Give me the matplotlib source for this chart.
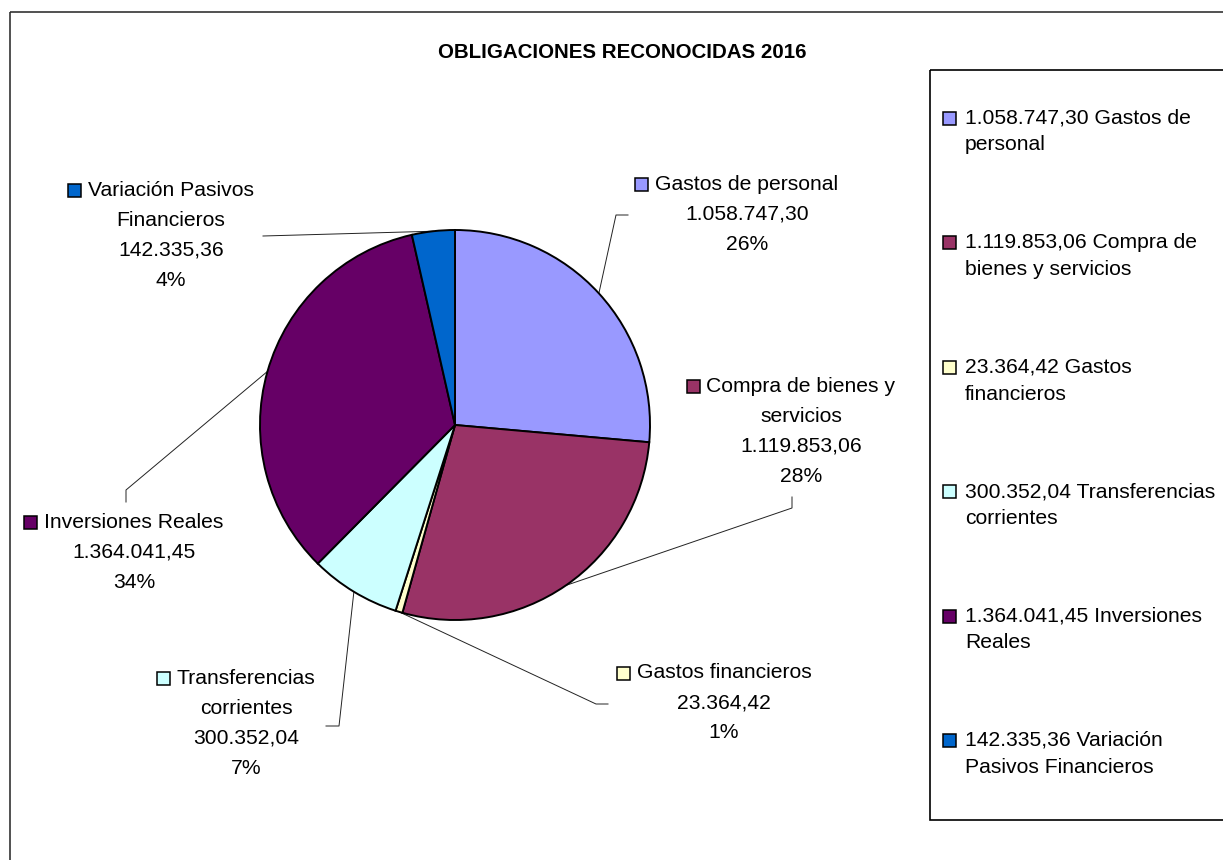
"""
Pie chart: OBLIGACIONES RECONOCIDAS 2016 (Excel-style, labels outside with leader lines)
"""

import matplotlib.pyplot as plt
import numpy as np
from matplotlib.patches import Rectangle

plt.rcParams["font.family"] = ["Liberation Sans", "DejaVu Sans"]

# ── Data ──────────────────────────────────────────────────────────────────────
TITLE = "OBLIGACIONES RECONOCIDAS 2016"
CATEGORIES = [
    "Gastos de personal",
    "Compra de bienes y servicios",
    "Gastos financieros",
    "Transferencias corrientes",
    "Inversiones Reales",
    "Variación Pasivos Financieros",
]
AMOUNTS = [1058747.30, 1119853.06, 23364.42, 300352.04, 1364041.45, 142335.36]
COLORS = ["#9999FF", "#993366", "#FFFFCC", "#CCFFFF", "#660066", "#0066CC"]

# line breaks as they appear in the slice labels and the legend
LABEL_LINES = [
    ["Gastos de personal"],
    ["Compra de bienes y", "servicios"],
    ["Gastos financieros"],
    ["Transferencias", "corrientes"],
    ["Inversiones Reales"],
    ["Variación Pasivos", "Financieros"],
]
LEGEND_SPLIT = [
    ("Gastos de", "personal"),
    ("Compra de", "bienes y servicios"),
    ("Gastos", "financieros"),
    ("Transferencias", "corrientes"),
    ("Inversiones", "Reales"),
    ("Variación", "Pasivos Financieros"),
]

# ── Layout (pixel coordinates, y downwards) ──────────────────────────────────
W, H = 1223, 860
CX, CY, R = 455, 425, 195
LABEL_POS = [(747, 184), (801, 386), (724, 673), (246, 678), (134, 522), (171, 190)]
LEADER_ELBOWS = [
    [(616, 215), (628, 215)],
    [(792, 508), (792, 497)],
    [(596, 704), (608, 704)],
    [(339, 726), (326, 726)],
    [(126, 490), (126, 502)],
    [(263, 236)],
]
LINE_GAP = 30
LEG_X, LEG_Y0, LEG_STEP, LEG_GAP = 943, 118, 124.5, 27
FS = 15.2
SQ = 13


def es_number(v: float) -> str:
    """1234567.8 -> 1.234.567,80"""
    return f"{v:,.2f}".replace(",", "X").replace(".", ",").replace("X", ".")


def main() -> None:
    fig = plt.figure(figsize=(W / 100, H / 100), dpi=100)
    ax = fig.add_axes([0, 0, 1, 1])

    # y axis inverted -> start at -90 counterclockwise = top, visually clockwise
    wedges, _ = ax.pie(
        AMOUNTS,
        colors=COLORS,
        startangle=-90,
        counterclock=True,
        center=(CX, CY),
        radius=R,
        wedgeprops=dict(edgecolor="black", linewidth=1.4),
    )
    for w in wedges:
        w.set_zorder(2)
    ax.set_xlim(0, W)
    ax.set_ylim(H, 0)
    ax.set_aspect("auto")
    ax.axis("off")

    total = sum(AMOUNTS)

    # ── slice labels + leader lines ──────────────────────────────────
    first_lines = []
    for i, w in enumerate(wedges):
        ang = np.deg2rad((w.theta1 + w.theta2) / 2)
        sx, sy = CX + R * np.cos(ang), CY + R * np.sin(ang)
        pts = [(sx, sy)] + LEADER_ELBOWS[i]
        ax.plot([p[0] for p in pts], [p[1] for p in pts], color="#222222",
                lw=0.7, zorder=1)

        pct = round(AMOUNTS[i] / total * 100)
        lines = LABEL_LINES[i] + [es_number(AMOUNTS[i]), f"{pct}%"]
        lx, ly = LABEL_POS[i]
        for k, txt in enumerate(lines):
            t = ax.text(lx, ly + k * LINE_GAP, txt, ha="center", va="center",
                        fontsize=FS, color="black")
            if k == 0:
                first_lines.append(t)

    # ── title ─────────────────────────────────────────────────────────
    ax.text(622, 52, TITLE, ha="center", va="center", fontsize=14.8,
            fontweight="bold")

    # ── frames ────────────────────────────────────────────────────────
    ax.add_patch(Rectangle((10, 12), W + 50, H + 50, fill=False, ec="#333333",
                           lw=1.2, clip_on=False))
    ax.add_patch(Rectangle((930, 70), 400, 750, fill=False, ec="black",
                           lw=1.2, clip_on=False))

    # ── legend ────────────────────────────────────────────────────────
    for i, (first, second) in enumerate(LEGEND_SPLIT):
        y = LEG_Y0 + i * LEG_STEP
        ax.add_patch(Rectangle((LEG_X, y - SQ / 2), SQ, SQ, fc=COLORS[i],
                               ec="black", lw=1.1, zorder=3))
        ax.text(LEG_X + SQ + 9, y, f"{es_number(AMOUNTS[i])} {first}",
                ha="left", va="center", fontsize=FS)
        ax.text(LEG_X + SQ + 9, y + LEG_GAP, second, ha="left", va="center",
                fontsize=FS)

    # ── markers next to the first line of each slice label ───────────
    fig.canvas.draw()
    renderer = fig.canvas.get_renderer()
    inv = ax.transData.inverted()
    for i, t in enumerate(first_lines):
        bb = t.get_window_extent(renderer)
        x0, _ = inv.transform((bb.x0, bb.y0))
        ly = LABEL_POS[i][1]
        ax.add_patch(Rectangle((x0 - 7 - SQ, ly - SQ / 2), SQ, SQ, fc=COLORS[i],
                               ec="black", lw=1.1, zorder=3))

    fig.savefig("out.png", dpi=100)


if __name__ == "__main__":
    main()
